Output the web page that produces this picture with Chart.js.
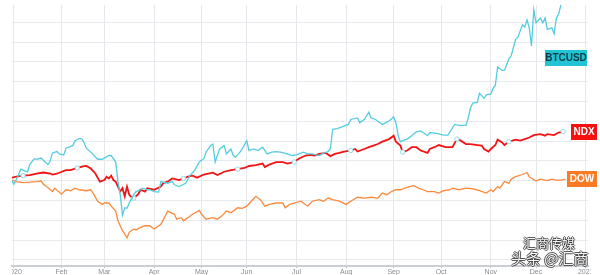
<!DOCTYPE html>
<html>
<head>
<meta charset="utf-8">
<script src="https://cdn.jsdelivr.net/npm/chart.js@4/dist/chart.umd.min.js"></script>
<style>
  html, body { margin: 0; padding: 0; background: #fff; }
  #wrap { position: relative; width: 600px; height: 275px; overflow: hidden; }
  .wm { position: absolute; font-family: "Noto Sans CJK SC", sans-serif; color: rgba(255,255,255,0.95);
        text-shadow: 1px 0 0 rgba(40,40,40,.75), -1px 0 0 rgba(40,40,40,.75), 0 1px 0 rgba(40,40,40,.75), 0 -1px 0 rgba(40,40,40,.75);
        white-space: nowrap; line-height: 1; }
</style>
</head>
<body>
<div id="wrap">
  <canvas id="perfChart" width="600" height="275"></canvas>
  <div class="wm" style="left:523px;top:236px;font-size:13px;">汇商传媒</div>
  <div class="wm" style="left:511px;top:250px;font-size:15px;">头条 @汇商</div>
</div>
<script>
// x = trading day of 2020 (0 = first session), y = relative performance (chart units)
const monthStarts = [0, 21, 40, 62, 83, 103, 125, 147, 168, 189, 211, 231, 253];
const monthLabels = ["2020", "Feb", "Mar", "Apr", "May", "Jun", "Jul", "Aug", "Sep", "Oct", "Nov", "Dec", "2021"];
const gridValues = [-40, -30, -20, -10, 0, 10, 20, 30, 40, 50, 60, 70, 80];

const btcDays = [-1, 0, 2, 3, 5, 6, 7, 9, 10, 12, 13, 15, 16, 17, 19, 20, 22, 23, 26, 27, 29, 30, 31, 32, 34, 37, 39, 40, 42, 43, 45, 46, 47, 48, 49, 50, 51, 53, 54, 56, 57, 59, 60, 62, 64, 65, 68, 70, 71, 73, 76, 78, 80, 82, 84, 85, 87, 88, 89, 90, 91, 93, 94, 96, 97, 98, 100, 101, 103, 104, 106, 108, 110, 112, 114, 116, 118, 121, 123, 125, 128, 130, 132, 135, 137, 139, 140, 141, 143, 146, 148, 149, 152, 153, 155, 157, 158, 160, 163, 165, 166, 168, 169, 170, 171, 174, 176, 178, 180, 183, 184, 187, 190, 192, 195, 197, 200, 201, 202, 203, 205, 206, 208, 209, 211, 212, 213, 214, 216, 217, 219, 220, 222, 223, 225, 226, 227, 228, 229, 230, 231, 233, 234, 235, 236, 238, 239, 240, 241, 242, 243];
const btcValues = [0, -1.8, 2.8, 5.8, 4.8, 4.5, 8.1, 11.1, 10.8, 11.4, 10.3, 8.1, 9.8, 14.0, 14.7, 13.5, 13.0, 16.4, 17.7, 20.2, 21.3, 21.0, 19.3, 16.4, 14.4, 10.8, 10.8, 11.4, 12.7, 12.7, 9.4, -0.5, -7.1, -17.4, -13.7, -14.0, -11.3, -7.1, -5.5, -4.6, -3.8, -4.6, -4.6, -5.5, -5.8, -0.5, -1.3, -0.5, -2.1, -3.0, -1.3, 2.8, 5.3, 9.4, 11.1, 14.4, 17.7, 18.5, 9.4, 12.7, 16.0, 17.7, 13.5, 16.0, 12.7, 11.9, 14.4, 16.0, 20.2, 15.2, 16.0, 15.2, 16.9, 13.5, 14.4, 14.7, 14.4, 13.5, 12.7, 13.0, 14.4, 13.5, 13.5, 12.7, 13.9, 14.7, 16.0, 25.9, 26.3, 27.6, 28.4, 30.9, 31.7, 29.3, 30.9, 34.6, 31.7, 30.9, 28.4, 29.6, 30.1, 32.2, 29.3, 22.7, 19.7, 21.0, 22.7, 24.6, 25.1, 22.7, 24.3, 23.9, 23.0, 23.0, 28.4, 27.9, 27.9, 31.7, 36.7, 39.2, 39.5, 44.1, 41.6, 43.3, 43.8, 46.6, 48.2, 57.4, 55.7, 55.7, 61.5, 63.1, 71.4, 72.5, 78.8, 77.5, 81.3, 77.2, 68.1, 86.3, 79.7, 82.2, 79.7, 82.2, 76.4, 77.2, 74.2, 82.2, 84.1, 88.7, 94.0];

const ndxDays = [-1, 1, 4, 7, 10, 13, 16, 17, 19, 20, 23, 25, 28, 31, 32, 34, 36, 38, 40, 41, 42, 43, 44, 45, 46, 47, 48, 49, 50, 51, 52, 53, 55, 56, 58, 59, 62, 65, 66, 68, 70, 73, 75, 77, 79, 81, 84, 86, 88, 90, 93, 96, 99, 102, 104, 107, 110, 111, 113, 116, 119, 121, 124, 126, 129, 131, 133, 135, 138, 140, 142, 144, 146, 149, 151, 152, 155, 157, 159, 161, 163, 166, 168, 169, 171, 172, 174, 176, 178, 180, 183, 184, 186, 188, 191, 194, 196, 197, 200, 202, 205, 207, 208, 210, 211, 213, 214, 216, 217, 219, 222, 224, 226, 228, 230, 233, 235, 236, 239, 241, 243];
const ndxValues = [1.5, 2.0, 2.5, 2.8, 3.6, 4.1, 3.6, 3.1, 3.6, 4.0, 5.3, 5.3, 6.4, 7.3, 7.4, 6.1, 3.6, -0.5, 0.3, 2.0, 1.1, 2.5, 0.3, -0.5, -3.0, -5.5, -3.8, -7.9, -3.0, -7.1, -8.4, -8.8, -6.8, -4.6, -5.5, -3.8, -4.6, -3.0, -1.3, -0.5, 1.1, 0.3, 1.1, 2.0, 2.5, 1.5, 3.1, 3.6, 4.0, 2.8, 4.5, 5.3, 5.8, 6.4, 7.4, 7.8, 8.6, 6.9, 8.1, 9.4, 9.4, 8.6, 9.4, 11.1, 12.7, 13.0, 12.7, 13.5, 14.0, 12.4, 13.5, 14.0, 14.7, 15.2, 16.0, 14.7, 16.0, 16.9, 17.7, 18.5, 19.7, 21.0, 22.7, 19.7, 17.7, 14.4, 15.2, 16.9, 16.9, 15.2, 14.0, 16.0, 16.9, 18.0, 16.9, 16.9, 21.0, 20.7, 18.5, 18.5, 18.0, 17.7, 16.0, 14.7, 16.0, 18.0, 20.7, 19.3, 18.0, 19.7, 20.7, 20.2, 21.0, 21.8, 23.0, 23.5, 22.7, 23.5, 23.0, 24.3, 24.8];
const ndxEventDays = [4, 28, 53, 76, 100, 124, 148, 172, 196, 220, 243];

const dowDays = [-1, 1, 4, 7, 10, 12, 13, 15, 17, 18, 20, 21, 23, 25, 27, 29, 32, 34, 35, 37, 39, 40, 42, 43, 45, 46, 48, 49, 50, 51, 53, 54, 56, 58, 60, 62, 65, 67, 68, 71, 72, 74, 75, 77, 79, 82, 83, 85, 88, 90, 92, 94, 96, 99, 101, 103, 105, 107, 109, 111, 113, 116, 119, 120, 122, 124, 127, 128, 130, 132, 135, 137, 139, 141, 144, 147, 149, 152, 155, 158, 161, 163, 165, 167, 169, 171, 173, 175, 177, 179, 181, 183, 186, 188, 190, 193, 194, 197, 200, 203, 206, 209, 211, 212, 214, 215, 217, 219, 220, 222, 225, 227, 228, 231, 233, 236, 238, 240, 242, 244];
const dowValues = [0.3, -0.5, -1.0, -0.8, -0.5, -0.2, -1.8, -3.5, -5.5, -3.8, -5.8, -6.8, -4.6, -5.1, -3.8, -4.6, -5.1, -4.6, -6.3, -10.4, -12.0, -11.3, -11.3, -12.9, -15.4, -20.3, -25.3, -26.9, -28.9, -26.1, -24.4, -24.9, -23.6, -22.8, -22.8, -24.4, -22.0, -17.8, -15.4, -17.0, -19.5, -18.7, -20.3, -18.7, -17.0, -15.0, -17.0, -19.5, -18.7, -19.5, -17.8, -15.4, -16.2, -13.7, -14.0, -12.9, -10.4, -7.9, -9.6, -12.9, -12.0, -11.3, -11.3, -13.7, -12.0, -11.3, -10.4, -11.3, -12.9, -10.4, -9.6, -10.4, -8.8, -9.6, -10.4, -12.0, -10.4, -8.4, -8.8, -8.4, -8.8, -6.3, -7.1, -5.5, -4.6, -4.6, -3.8, -3.0, -2.5, -3.8, -4.6, -5.5, -5.5, -6.3, -5.1, -4.6, -3.8, -4.6, -3.8, -4.1, -5.1, -6.3, -4.6, -5.5, -3.0, -3.8, -0.5, -1.3, 0.8, 2.0, 3.1, 4.1, 2.0, -0.2, 0.8, 0.0, 0.8, 0.3, 0.3, 0.8];

const toPoints = (days, values) => days.map((d, i) => ({ x: d, y: values[i] }));

const ndxEventIdx = ndxEventDays.map(d => {
	let best = 0;
	ndxDays.forEach((v, i) => { if (Math.abs(v - d) < Math.abs(ndxDays[best] - d)) best = i; });
	return best;
});

// coloured symbol tags on the right edge
const tags = [
	{ text: "BTCUSD", bg: "#22c3d4", fg: "#0d3c45", right: 587, width: 42, cap: 62 },
	{ text: "NDX", bg: "#f4100f", fg: "#ffffff", right: 597, width: 26 },
	{ text: "DOW", bg: "#fb7b24", fg: "#ffffff", right: 597, width: 30 },
];

const priceTags = {
	id: "priceTags",
	afterDraw(chart) {
		const ctx = chart.ctx;
		const y = chart.scales.y;
		ctx.save();
		// edge crop like the source screenshot
		ctx.fillStyle = "#ffffff";
		ctx.fillRect(0, 267, 12, 8);
		ctx.fillRect(591, 267, 9, 8);
		chart.data.datasets.forEach((ds, i) => {
			const t = tags[i];
			let v = ds.data[ds.data.length - 1].y;
			if (t.cap !== undefined) v = Math.min(v, t.cap);
			const cy = Math.round(y.getPixelForValue(v));
			ctx.fillStyle = t.bg;
			ctx.fillRect(t.right - t.width, cy - 8, t.width, 16);
			ctx.fillStyle = t.fg;
			ctx.font = "bold 10px 'Liberation Sans', Arial, sans-serif";
			ctx.textAlign = "center";
			ctx.textBaseline = "middle";
			ctx.fillText(t.text, t.right - t.width / 2, cy + 0.5);
		});
		ctx.restore();
	},
};

const ctx = document.getElementById("perfChart").getContext("2d");

const config = {
	type: "line",
	data: {
		datasets: [
			{
				label: "BTCUSD",
				data: toPoints(btcDays, btcValues),
				borderColor: "#55cde0",
				borderWidth: 1.3,
				pointRadius: 0,
				tension: 0,
			},
			{
				label: "NDX",
				data: toPoints(ndxDays, ndxValues),
				borderColor: "#f01414",
				borderWidth: 1.8,
				pointRadius: (c) => (ndxEventIdx.includes(c.dataIndex) ? 2.2 : 0),
				pointBorderColor: "#8fdbe6",
				pointBackgroundColor: "#ffffff",
				pointBorderWidth: 1,
				tension: 0,
			},
			{
				label: "DOW",
				data: toPoints(dowDays, dowValues),
				borderColor: "#fb8a3c",
				borderWidth: 1.3,
				pointRadius: 0,
				tension: 0,
			},
		],
	},
	options: {
		responsive: false,
		animation: false,
		events: [],
		layout: { padding: { left: 12, right: 12, top: 0, bottom: 0 } },
		plugins: { legend: { display: false }, tooltip: { enabled: false } },
		scales: {
			x: {
				type: "linear",
				min: -0.885,
				max: 254,
				afterBuildTicks: (s) => { s.ticks = monthStarts.map((v) => ({ value: v })); },
				afterFit: (s) => { s.height = 9; },
				ticks: {
					autoSkip: false,
					maxRotation: 0,
					padding: 0,
					color: "#8a8d93",
					font: { size: 7, family: "'Liberation Sans', Arial, sans-serif" },
					callback: (v) => monthLabels[monthStarts.indexOf(v)],
				},
				grid: { color: "#e4e7ec", tickLength: 2, tickColor: "#b8bcc2" },
				border: { color: "#cbced3", width: 2 },
			},
			y: {
				min: -43.13,
				max: 88.75,
				afterBuildTicks: (s) => { s.ticks = gridValues.map((v) => ({ value: v })); },
				afterFit: (s) => { s.width = 0; },
				ticks: { display: false },
				grid: { color: "#e6e9ee", drawTicks: false },
				border: { display: false },
			},
		},
	},
	plugins: [priceTags],
};

const perfChart = new Chart(ctx, config);
</script>
</body>
</html>
